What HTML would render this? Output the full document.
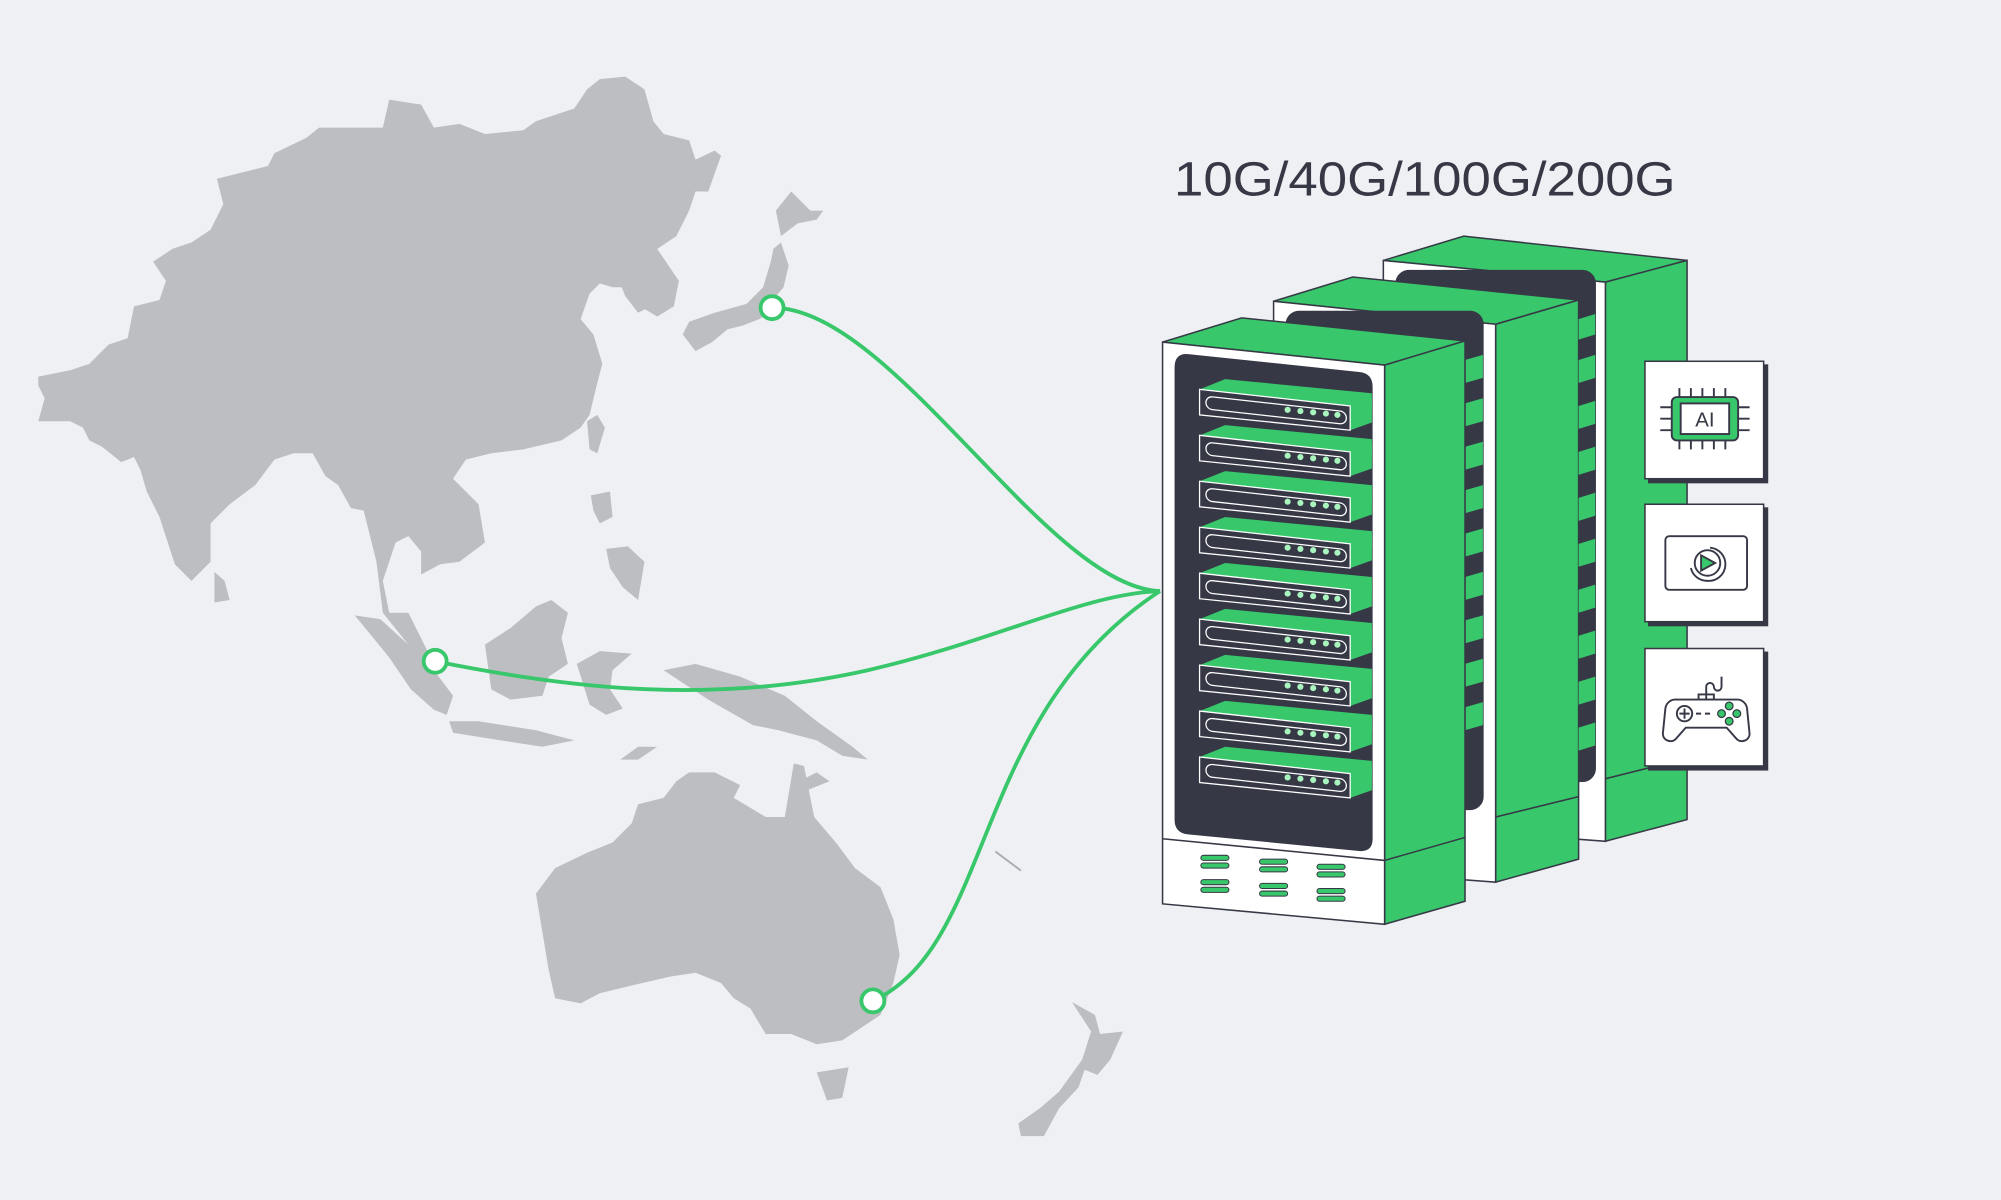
<!DOCTYPE html>
<html><head><meta charset="utf-8"><style>
html,body{margin:0;padding:0;background:#eff0f3;}
svg{display:block}
</style></head><body>
<svg width="2001" height="1200" viewBox="0 0 1568 940" preserveAspectRatio="none" xmlns="http://www.w3.org/2000/svg">
<rect width="1568" height="940" fill="#eff0f3"/>
<g fill="#bdbec2">
<polygon points="30,295 55,290 70,285 85,270 100,265 105,240 125,235 130,220 120,205 135,195 150,190 165,180 175,160 170,140 190,135 210,130 215,120 240,108 250,100 300,100 305,78 330,82 340,100 360,97 380,105 410,102 420,95 450,85 460,70 470,62 490,60 505,70 512,95 520,105 540,110 545,125 560,118 565,122 555,150 545,150 540,165 530,185 515,195 532,220 528,240 515,248 505,242 505,228 490,225 480,225 470,222 462,230 455,250 465,262 472,285 468,300 462,325 455,335 440,345 410,352 385,355 365,360 355,375 375,395 380,425 360,440 345,442 330,450 330,432 320,420 310,425 300,455 305,480 320,480 330,500 335,510 342,523 330,525 320,505 300,480 295,440 285,400 275,398 265,380 255,373 245,355 230,355 215,360 200,380 180,395 165,410 165,440 150,455 137,442 125,405 115,385 110,368 105,358 95,362 80,350 70,345 65,335 55,330 30,330 35,312 30,302"/>
<polygon points="168,448 176,455 180,470 168,472"/>
<polygon points="485,220 505,210 520,215 510,240 500,245 490,232"/>
<polygon points="460,330 468,325 474,335 468,355 462,352"/>
<polygon points="278,482 298,485 320,505 340,525 355,545 350,560 340,556 322,540 305,515"/>
<polygon points="380,505 400,492 420,475 432,470 445,480 440,500 445,520 430,530 425,545 400,548 385,540"/>
<polygon points="452,520 470,510 495,512 480,525 478,540 488,555 475,560 462,552"/>
<polygon points="352,565 375,565 420,572 450,580 425,585 380,578 355,574"/>
<polygon points="520,525 545,520 580,530 615,545 640,565 668,585 680,595 660,592 640,580 610,572 590,568 555,548"/>
<polygon points="620,615 640,605 650,612 630,620"/>
<polygon points="486,595 500,585 515,585 500,595"/>
<polygon points="463,388 478,385 480,405 470,410 465,400"/>
<polygon points="475,430 492,428 505,440 500,470 488,460 478,445"/>
<polygon points="540,252 560,245 585,238 598,225 604,205 606,195 612,190 618,208 614,225 608,232 608,242 595,250 582,255 570,258 558,268 545,275 535,262"/>
<polygon points="608,165 620,150 635,165 645,165 640,172 625,175 612,185"/>
<polygon points="420,700 435,680 460,668 480,660 495,645 500,630 520,625 530,612 540,605 560,605 580,615 575,625 600,640 615,640 622,598 630,600 638,640 655,660 670,680 690,695 700,720 705,748 700,770 690,795 660,815 640,818 620,810 600,810 588,790 575,782 565,770 545,762 525,765 495,772 470,778 455,786 435,782 430,760 425,730"/>
<polygon points="640,840 665,836 660,860 648,862"/>
<polygon points="840,785 858,795 862,810 880,808 870,830 860,842 850,838 845,852 830,868 818,890 800,890 798,880 815,868 830,855 848,830 855,808"/>
</g>
<g fill="none" stroke="#38c76b" stroke-width="3">
<path d="M605,241 C700,241 820,460 909,463"/>
<path d="M341,518 C450,540 560,552 680,525 C780,502 850,465 909,463"/>
<path d="M684,784 C780,740 760,560 909,463"/>
</g>
<g fill="#fff" stroke="#38c76b" stroke-width="3">
<circle cx="605" cy="241" r="9"/><circle cx="341" cy="518" r="9"/><circle cx="684" cy="784" r="9"/>
</g>
<line x1="780" y1="667" x2="800" y2="682" stroke="#aaaab0" stroke-width="1.5"/>
<text x="920" y="153" textLength="393" lengthAdjust="spacingAndGlyphs" font-family="Liberation Sans, sans-serif" font-size="38" fill="#363846">10G/40G/100G/200G</text>
<g stroke="#363846" stroke-width="1.2">
<polygon points="1084,204 1147,185 1322,204 1258,221" fill="#38c76b"/>
<polygon points="1258,221 1322,204 1322,642 1258,659" fill="#38c76b"/>
<polygon points="1084,204 1258,221 1258,659 1084,646" fill="#fff"/>
<rect x="1094" y="212" width="156" height="400" rx="10" fill="#363846"/>
<polygon points="998,236 1060,217 1237,235 1172,254" fill="#38c76b"/>
<polygon points="1172,254 1237,235 1237,673 1172,691" fill="#38c76b"/>
<polygon points="998,236 1172,254 1172,691 998,678" fill="#fff"/>
<rect x="1008" y="244" width="154" height="390" rx="10" fill="#363846"/>
</g>
<g fill="#38c76b">
<polygon points="1237,250 1250,246 1250,262 1237,266"/>
<polygon points="1237,282 1250,278 1250,296 1237,300"/>
<polygon points="1237,318 1250,314 1250,332 1237,336"/>
<polygon points="1237,354 1250,350 1250,368 1237,372"/>
<polygon points="1237,390 1250,386 1250,404 1237,408"/>
<polygon points="1237,426 1250,422 1250,440 1237,444"/>
<polygon points="1237,462 1250,458 1250,476 1237,480"/>
<polygon points="1237,498 1250,494 1250,512 1237,516"/>
<polygon points="1237,534 1250,530 1250,548 1237,552"/>
<polygon points="1237,570 1250,566 1250,584 1237,588"/>
<polygon points="1148,282 1162,278 1162,296 1148,300"/>
<polygon points="1148,316 1162,312 1162,330 1148,334"/>
<polygon points="1148,350 1162,346 1162,364 1148,368"/>
<polygon points="1148,384 1162,380 1162,398 1148,402"/>
<polygon points="1148,418 1162,414 1162,432 1148,436"/>
<polygon points="1148,452 1162,448 1162,466 1148,470"/>
<polygon points="1148,486 1162,482 1162,500 1148,504"/>
<polygon points="1148,520 1162,516 1162,534 1148,538"/>
<polygon points="1148,554 1162,550 1162,568 1148,572"/>
</g>
<g stroke="#363846" stroke-width="1.2">
<line x1="1172" y1="640" x2="1237" y2="624"/>
<line x1="1258" y1="610" x2="1322" y2="594"/>
<polygon points="911,268 973,249 1148,267 1085,286" fill="#38c76b"/>
<polygon points="1085,286 1148,267 1148,706 1085,724" fill="#38c76b"/>
<polygon points="911,268 1085,286 1085,724 911,708" fill="#fff"/>
<line x1="911" y1="657" x2="1085" y2="674"/>
<line x1="1085" y1="674" x2="1148" y2="656"/>
<path d="M931,278 L1065,292 Q1075,293 1075,303 L1075,657 Q1075,667 1065,666 L931,653 Q921,652 921,642 L921,288 Q921,277 931,278 Z" fill="#363846"/>
</g>
<g id="u">
<polygon points="940,305 960,297 1075,308 1075,321 1058,318" fill="#38c76b"/>
<polygon points="1058,318 1075,312 1075,331 1058,337" fill="#38c76b"/>
<polygon points="940,305 1058,318 1058,337 940,325" fill="#363846" stroke="#fff" stroke-width="1"/>
<rect x="945" y="312" width="110" height="10" rx="5" transform="skewY(6.3) translate(0,-106)" fill="none" stroke="#fff" stroke-width="1"/>
<g fill="#a8f5bd"><circle cx="1009" cy="321" r="2.4"/><circle cx="1019" cy="322" r="2.4"/><circle cx="1029" cy="323" r="2.4"/><circle cx="1039" cy="324" r="2.4"/><circle cx="1048" cy="325" r="2.4"/></g>
</g>
<use href="#u" y="36"/><use href="#u" y="72"/><use href="#u" y="108"/><use href="#u" y="144"/><use href="#u" y="180"/><use href="#u" y="216"/><use href="#u" y="252"/><use href="#u" y="288"/>
<g fill="#38c76b" stroke="#363846" stroke-width="0.8">
<rect x="941" y="670" width="22" height="4" rx="2"/><rect x="941" y="676" width="22" height="4" rx="2"/>
<rect x="941" y="689" width="22" height="4" rx="2"/><rect x="941" y="695" width="22" height="4" rx="2"/>
<rect x="987" y="673" width="22" height="4" rx="2"/><rect x="987" y="679" width="22" height="4" rx="2"/>
<rect x="987" y="692" width="22" height="4" rx="2"/><rect x="987" y="698" width="22" height="4" rx="2"/>
<rect x="1032" y="677" width="22" height="4" rx="2"/><rect x="1032" y="683" width="22" height="4" rx="2"/>
<rect x="1032" y="696" width="22" height="4" rx="2"/><rect x="1032" y="702" width="22" height="4" rx="2"/>
</g>
<g stroke="#363846" stroke-width="1.2">
<rect x="1292" y="286" width="93" height="92" fill="#363846"/>
<rect x="1289" y="283" width="93" height="92" fill="#fff"/>
<rect x="1292" y="398" width="93" height="92" fill="#363846"/>
<rect x="1289" y="395" width="93" height="92" fill="#fff"/>
<rect x="1292" y="511" width="93" height="92" fill="#363846"/>
<rect x="1289" y="508" width="93" height="92" fill="#fff"/>
</g>
<g stroke="#363846" stroke-width="1.5" fill="none">
<path d="M1316,304v8M1325,304v8M1334,304v8M1343,304v8M1352,304v8M1316,344v8M1325,344v8M1334,344v8M1343,344v8M1352,344v8M1301,319h9M1301,328h9M1301,337h9M1362,319h9M1362,328h9M1362,337h9"/>
<rect x="1310" y="311" width="52" height="34" rx="4" fill="#38c76b"/>
<rect x="1317" y="316" width="38" height="24" fill="#fff"/>
<rect x="1305" y="420" width="64" height="42" rx="3"/>
<circle cx="1338" cy="441" r="10"/>
<path d="M1340,429 A13,13 0 0 1 1338,455 A13,13 0 0 1 1325,445"/>
<path d="M1333,435 L1344,441 L1333,447 Z" fill="#38c76b"/>
<path d="M1337,548 v-10 a3,3 0 0 1 6,0 v0 M1349,530 v8 a3,3 0 0 1 -6,0"/>
<path d="M1331,548 h12 v-4 h-12 z"/>
<path d="M1312,548 h50 a8,8 0 0 1 7,7 l2,20 a6,6 0 0 1 -10,4 l-8,-9 h-32 l-8,9 a6,6 0 0 1 -10,-4 l2,-20 a8,8 0 0 1 7,-7 z"/>
<circle cx="1320" cy="559" r="6"/><path d="M1316,559h8M1320,555v8M1329,559h4M1336,559h4"/>
<g fill="#38c76b" stroke-width="1"><circle cx="1355" cy="553" r="3"/><circle cx="1355" cy="565" r="3"/><circle cx="1349" cy="559" r="3"/><circle cx="1361" cy="559" r="3"/></g>
</g>
<text x="1336" y="334" text-anchor="middle" font-family="Liberation Sans, sans-serif" font-size="16" fill="#363846">AI</text>
</svg>
</body></html>
